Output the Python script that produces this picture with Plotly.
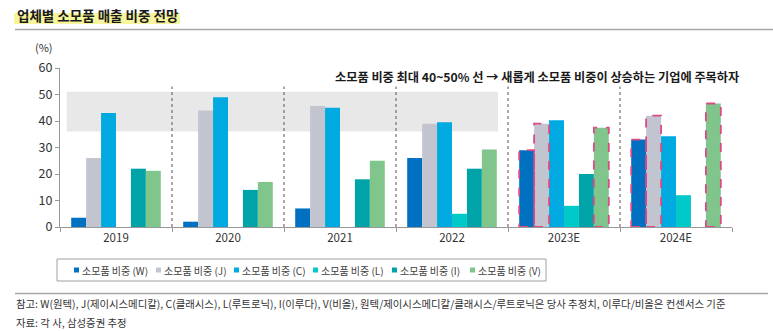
import plotly.graph_objects as go

# ---- data (소모품 매출 비중, %) ----
years = ["2019", "2020", "2021", "2022", "2023E", "2024E"]
series_names = ["W", "J", "C", "L", "I", "V"]
share_W = [3.5, 2.0, 7.0, 26.0, 29.0, 33.0]
share_J = [26.0, 44.0, 45.7, 39.0, 39.0, 42.0]
share_C = [43.0, 49.0, 45.0, 39.5, 40.3, 34.2]
share_L = [None, None, None, 5.0, 8.0, 12.0]
share_I = [22.0, 14.0, 18.0, 22.0, 20.0, None]
share_V = [21.2, 17.0, 25.0, 29.2, 37.5, 46.6]
colors = ["#0070c0", "#c2c4d0", "#00a9e0", "#00c9c9", "#00a4a8", "#80c68c"]
estimate_series = ["W", "J", "V"]      # consensus/estimate bars outlined
estimate_years = ["2023E", "2024E"]
band_low, band_high = 36, 51             # 소모품 비중 최대 40~50% 구간

values = [share_W, share_J, share_C, share_L, share_I, share_V]

# ---- geometry helpers ----
W_PX, H_PX = 773, 331
ML, MR, MT, MB = 60, 41, 68, 104
PW = W_PX - ML - MR
PH = H_PX - MT - MB


def px_x(px):
    return (px - ML) / PW


def px_y(py):
    return (H_PX - MB - py) / PH


bar_w = 0.8 / len(series_names)
offsets = [-0.4 + i * bar_w for i in range(len(series_names))]
font = "Noto Sans CJK KR"

fig = go.Figure()
for name, vals, col, off in zip(series_names, values, colors, offsets):
    fig.add_trace(go.Bar(
        x=years, y=vals, name=f"소모품 비중 ({name})",
        marker=dict(color=col, line=dict(width=0)),
        width=bar_w, offset=off, showlegend=False,
    ))

shapes = []
# grey reference band
shapes.append(dict(type="rect", xref="x", yref="y", x0=-0.44, x1=3.41,
                   y0=band_low, y1=band_high, fillcolor="#e8e8e8",
                   line=dict(width=0), layer="below"))
# dotted year separators
for i in range(len(years) - 1):
    shapes.append(dict(type="line", xref="x", yref="y", x0=i + 0.5, x1=i + 0.5,
                       y0=0, y1=53, line=dict(color="#555555", width=1, dash="dot"),
                       layer="below"))
# dashed outlines on estimate bars
for name, vals, off in zip(series_names, values, offsets):
    if name not in estimate_series:
        continue
    for yr in estimate_years:
        k = years.index(yr)
        v = vals[k]
        if v is None:
            continue
        shapes.append(dict(type="rect", xref="x", yref="y",
                           x0=k + off, x1=k + off + bar_w, y0=0, y1=v,
                           line=dict(color="#dc4a86", width=1.8, dash="dash"),
                           fillcolor="rgba(0,0,0,0)", layer="above"))

# title highlight and rules
shapes.append(dict(type="rect", xref="paper", yref="paper",
                   x0=px_x(14), x1=px_x(180), y0=px_y(24), y1=px_y(13),
                   fillcolor="#f7f59b", line=dict(width=0), layer="below"))
shapes.append(dict(type="line", xref="paper", yref="paper",
                   x0=px_x(15), x1=px_x(773), y0=px_y(29.5), y1=px_y(29.5),
                   line=dict(color="#a6a6a6", width=1.5)))
shapes.append(dict(type="line", xref="paper", yref="paper",
                   x0=px_x(15), x1=px_x(768), y0=px_y(293.5), y1=px_y(293.5),
                   line=dict(color="#a6a6a6", width=1.5)))

# legend box
shapes.append(dict(type="rect", xref="paper", yref="paper",
                   x0=px_x(57), x1=px_x(546), y0=px_y(281), y1=px_y(259),
                   line=dict(color="#a0a0a0", width=1), fillcolor="rgba(0,0,0,0)"))

annotations = [
    dict(text="<b>업체별 소모품 매출 비중 전망</b>", xref="paper", yref="paper",
         x=px_x(15), y=px_y(15), xanchor="left", yanchor="middle", showarrow=False,
         font=dict(family=font, size=13.5, color="#1a1a1a")),
    dict(text="(%)", xref="paper", yref="paper", x=px_x(33), y=px_y(47),
         xanchor="left", yanchor="middle", showarrow=False,
         font=dict(family=font, size=11, color="#333333")),
    dict(text="<b>소모품 비중 최대 40~50% 선 → 새롭게 소모품 비중이 상승하는 기업에 주목하자</b>",
         xref="paper", yref="paper", x=px_x(741), y=px_y(77),
         xanchor="right", yanchor="middle", showarrow=False,
         font=dict(family=font, size=12.2, color="#1a1a1a")),
    dict(text="참고: W(원텍), J(제이시스메디칼), C(클래시스), L(루트로닉), I(이루다), V(비올), "
              "원텍/제이시스메디칼/클래시스/루트로닉은 당사 추정치, 이루다/비올은 컨센서스 기준",
         xref="paper", yref="paper", x=px_x(14), y=px_y(303),
         xanchor="left", yanchor="middle", showarrow=False,
         font=dict(family=font, size=10.4, color="#333333")),
    dict(text="자료: 각 사, 삼성증권 추정", xref="paper", yref="paper",
         x=px_x(14), y=px_y(322), xanchor="left", yanchor="middle", showarrow=False,
         font=dict(family=font, size=10.4, color="#333333")),
]

# custom legend entries
legend_left = [74, 156, 234, 313, 392, 470]
for name, col, lx in zip(series_names, colors, legend_left):
    shapes.append(dict(type="rect", xref="paper", yref="paper",
                       x0=px_x(lx), x1=px_x(lx + 5), y0=px_y(272.5), y1=px_y(267.5),
                       fillcolor=col, line=dict(width=0)))
    annotations.append(dict(text=f"소모품 비중 ({name})", xref="paper", yref="paper",
                            x=px_x(lx + 6), y=px_y(270), xanchor="left", yanchor="middle",
                            showarrow=False,
                            font=dict(family=font, size=10, color="#404040")))

fig.update_layout(
    width=W_PX, height=H_PX,
    margin=dict(l=ML, r=MR, t=MT, b=MB),
    paper_bgcolor="white", plot_bgcolor="white",
    barmode="overlay",
    shapes=shapes, annotations=annotations,
    font=dict(family=font, color="#333333"),
    xaxis=dict(type="category", range=[-0.5, 5.5], tickson="boundaries",
               ticks="outside", ticklen=4, tickcolor="#999999",
               showline=True, linecolor="#999999", linewidth=1,
               showgrid=False, tickfont=dict(size=11.5, color="#333333")),
    yaxis=dict(range=[0, 60], dtick=10, ticks="outside", ticklen=4,
               tickcolor="#999999", showline=True, linecolor="#999999",
               linewidth=1, showgrid=False, zeroline=False,
               tickfont=dict(size=12.5, color="#333333")),
)

fig.write_html("out.html")
